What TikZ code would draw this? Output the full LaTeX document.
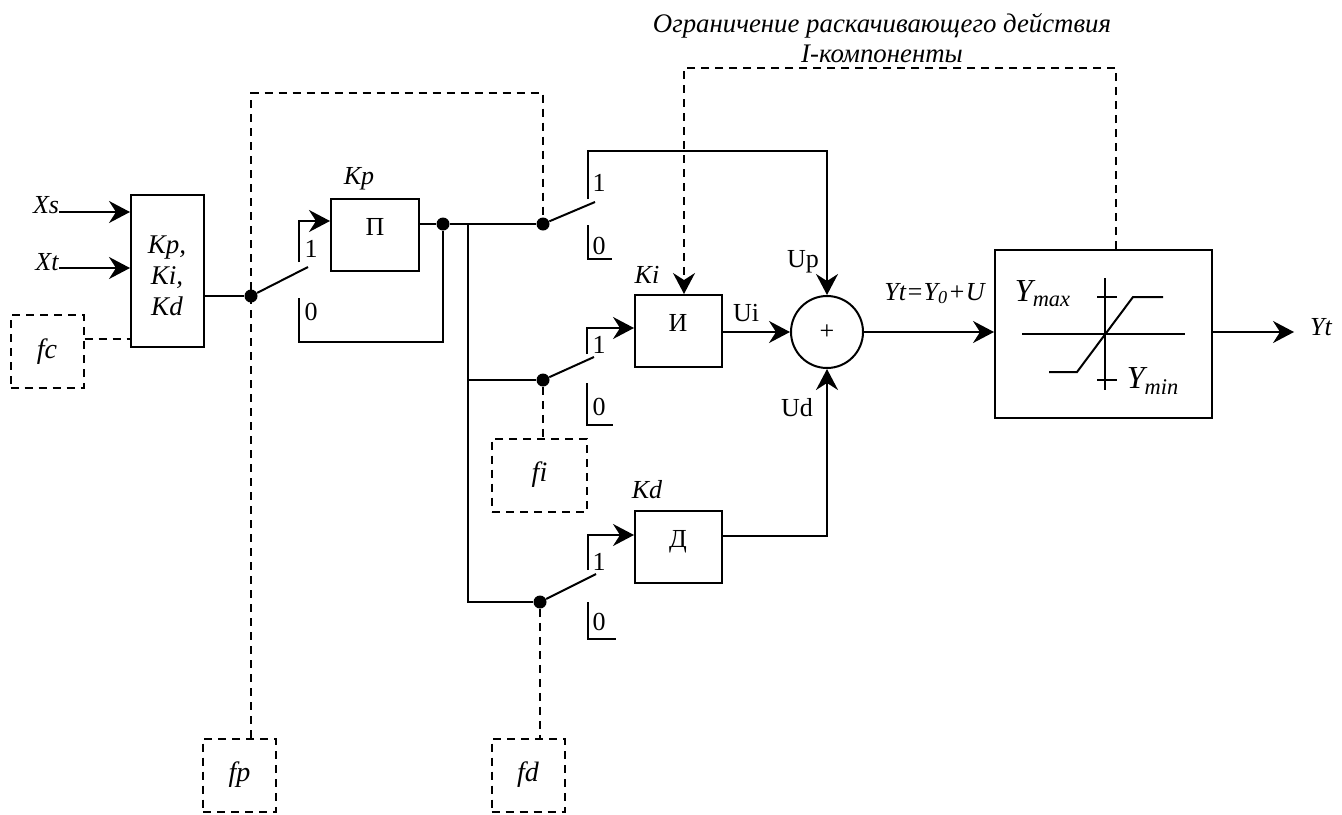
\documentclass[tikz,border=0pt]{standalone}
\usepackage{fontspec}
\setmainfont{Liberation Serif}
\usetikzlibrary{positioning,shapes,arrows.meta}
\tikzset{
    blockbox/.style={rectangle, draw, line width=1pt, inner sep=0pt},
    dashbox/.style={rectangle, draw, line width=1pt, dash pattern=on 4pt off 3pt, minimum width=36.5pt, minimum height=36.5pt, inner sep=0pt, font=\fontsize{14}{16}\selectfont\itshape},
    junction/.style={circle, fill=black, inner sep=0pt, minimum size=6.5pt},
    label text/.style={inner sep=0pt, font=\fontsize{13}{15}\selectfont},
    italic text/.style={inner sep=0pt, font=\fontsize{13}{15}\selectfont\itshape},
    title text/.style={inner sep=0pt, anchor=base, font=\fontsize{13.4}{15}\selectfont\itshape},
    wire/.style={line width=1pt},
    arrowwire/.style={line width=1pt, -{Stealth[length=10.5pt, width=11pt, inset=3.5pt]}},
    dashwire/.style={line width=0.9pt, dash pattern=on 4pt off 3pt},
    dasharrow/.style={dashwire, -{Stealth[length=10.5pt, width=11pt, inset=3.5pt]}}
}

\begin{document}
\begin{tikzpicture}[x=0.5pt, y=-0.5pt]
    \useasboundingbox (0,0) rectangle (1342,814);

    \node[blockbox, minimum width=36.5pt, minimum height=76pt] (gain) at (167.5,271) {};
    \node[blockbox, minimum width=44pt, minimum height=36pt] (blockp) at (375,235) {};
    \node[blockbox, minimum width=43.5pt, minimum height=36pt] (blocki) at (678.5,331) {};
    \node[blockbox, minimum width=43.5pt, minimum height=36pt] (blockd) at (678.5,547) {};
    \node[blockbox, minimum width=108.5pt, minimum height=84pt] (limit) at (1103.5,334) {};
    \node[circle, draw, line width=1pt, minimum size=36pt, inner sep=0pt, font=\fontsize{13}{15}\selectfont] (sum) at (827,332) {+};

    \node[dashbox] (fc) at (47,351.5) {\raisebox{3pt}{fc}};
    \node[dashbox] (fp) at (239.5,775) {\raisebox{2pt}{fp}};
    \node[dashbox, minimum width=47.5pt] (fi) at (539.5,475) {\raisebox{3pt}{fi}};
    \node[dashbox] (fd) at (528,775) {\raisebox{2pt}{fd}};

    \node[junction] (jgain) at (251,296) {};
    \node[junction] (jp) at (443,224) {};
    \node[junction] (ju) at (543,224) {};
    \node[junction] (ji) at (543,380) {};
    \node[junction] (jd) at (540,602) {};

    \node[italic text, anchor=base] (xs) at (46,213) {Xs};
    \node[italic text, anchor=base] (xt) at (47,270) {Xt};
    \node[italic text] (kp) at (359,179) {Kp};
    \node[italic text] (ki) at (647,275) {Ki};
    \node[italic text] (kd) at (647,490) {Kd};
    \node[italic text, align=center, font=\fontsize{13.5}{15.5}\selectfont\itshape] (gaintext) at (167,276) {Kp,\\Ki,\\Kd};
    \node[label text] (textp) at (375,227) {П};
    \node[label text] (texti) at (678,323) {И};
    \node[label text] (textd) at (678,542) {Д};
    \node[label text] (up) at (803,262) {Up};
    \node[label text] (ui) at (746,313) {Ui};
    \node[label text] (ud) at (797,408) {Ud};
    \node[italic text, anchor=base] (yeq) at (934.5,300) {Yt=Y\textsubscript{0}+U};
    \node[italic text] (yt) at (1321,327) {Yt};
    \node[inner sep=0pt, font=\fontsize{16}{18}\selectfont\itshape] (ymax) at (1043,294) {Y\textsubscript{max}};
    \node[inner sep=0pt, font=\fontsize{16}{18}\selectfont\itshape] (ymin) at (1153,381) {Y\textsubscript{min}};
    \node[title text] (title) at (882,32) {Ограничение раскачивающего действия};
    \node[title text] (titleb) at (882,62) {I-компоненты};

    \node[label text] (onep) at (311,249) {1};
    \node[label text] (zerop) at (311,312) {0};
    \node[label text] (oneu) at (599,183) {1};
    \node[label text] (zerou) at (599,246) {0};
    \node[label text] (onei) at (599,345) {1};
    \node[label text] (zeroi) at (599,407) {0};
    \node[label text] (oned) at (599,562) {1};
    \node[label text] (zerod) at (599,622) {0};

    \coordinate (xsin) at (59,212);
    \coordinate (xtin) at (59,268);
    \coordinate (bladep) at (308,267);
    \coordinate (pone) at (299,262);
    \coordinate (pzero) at (299,298);
    \coordinate (bladeu) at (595,202);
    \coordinate (uone) at (588,199);
    \coordinate (uzero) at (588,225);
    \coordinate (uzeroend) at (612,259);
    \coordinate (bladei) at (594,357);
    \coordinate (ione) at (587,354);
    \coordinate (izero) at (587,383);
    \coordinate (izeroend) at (613,425);
    \coordinate (bladed) at (596,574);
    \coordinate (done) at (588,570);
    \coordinate (dzero) at (588,602);
    \coordinate (dzeroend) at (616,639);
    \coordinate (limitout) at (1294,332);
    \coordinate (limittop) at (1116,68);
    \coordinate (ptop) at (251,93);
    \coordinate (branch) at (468,224);

    \draw[arrowwire] (xsin) -- (gain.west |- xsin);
    \draw[arrowwire] (xtin) -- (gain.west |- xtin);
    \draw[dashwire] (fc.east |- 0,339) -- (gain.west |- 0,339);
    \draw[wire] (gain.east |- jgain) -- (jgain);

    \draw[wire] (jgain) -- (bladep);
    \draw[arrowwire] (pone) -- (299,221) -- (blockp.west |- 0,221);
    \draw[wire] (pzero) -- (299,342) -| (jp);
    \draw[wire] (blockp.east |- jp) -- (jp);
    \draw[wire] (jp) -- (ju);
    \draw[wire] (branch) |- (jd);
    \draw[wire] (branch |- ji) -- (ji);

    \draw[wire] (ju) -- (bladeu);
    \draw[arrowwire] (uone) |- (827,151) -- (sum.north);
    \draw[wire] (uzero) |- (uzeroend);

    \draw[wire] (ji) -- (bladei);
    \draw[arrowwire] (ione) |- (blocki.west |- 0,328);
    \draw[wire] (izero) |- (izeroend);

    \draw[wire] (jd) -- (bladed);
    \draw[arrowwire] (done) |- (blockd.west |- 0,535);
    \draw[wire] (dzero) |- (dzeroend);

    \draw[arrowwire] (blocki.east |- sum) -- (sum.west);
    \draw[arrowwire] (blockd.east |- 0,536) -| (sum.south);
    \draw[arrowwire] (sum.east) -- (limit.west |- sum);
    \draw[arrowwire] (limit.east |- limitout) -- (limitout);

    \draw[dashwire] (fp.north -| jgain) -- (ptop) -| (ju);
    \draw[dashwire] (ji) -- (fi.north -| ji);
    \draw[dashwire] (jd) -- (fd.north -| jd);
    \draw[dasharrow] (limit.north -| limittop) -- (limittop) -| (blocki.north -| 684,0);

    \draw[wire] (1022,334) -- (1185,334);
    \draw[wire] (1105,278) -- (1105,390);
    \draw[wire] (1097,297) -- (1117,297);
    \draw[wire] (1097,380) -- (1117,380);
    \draw[wire] (1163,297) -- (1133,297) -- (1077,372) -- (1049,372);
\end{tikzpicture}
\end{document}
